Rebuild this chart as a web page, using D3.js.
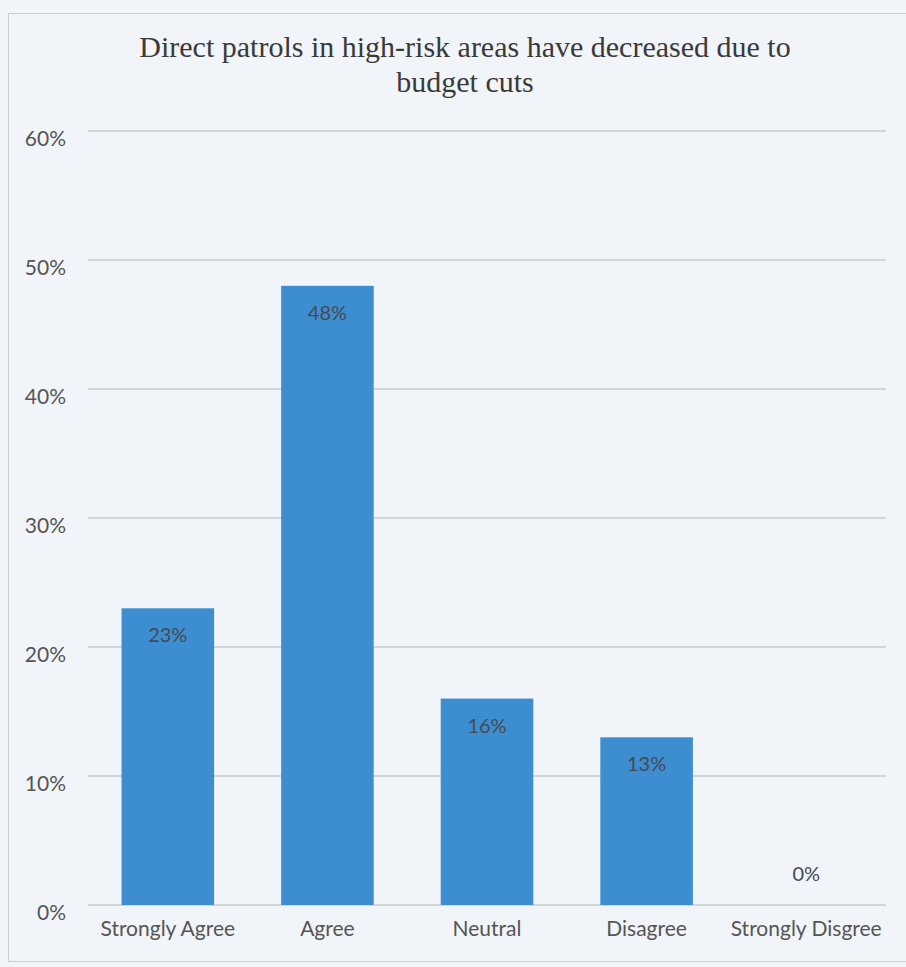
<!DOCTYPE html>
<html>
<head>
<meta charset="utf-8">
<script src="https://cdn.jsdelivr.net/npm/d3@7"></script>
<style>
  html, body { margin: 0; padding: 0; background: #f1f4f8; }
  svg { display: block; }
</style>
</head>
<body>
<svg id="chart" width="906" height="967"></svg>
<script>
const categories = ["Strongly Agree", "Agree", "Neutral", "Disagree", "Strongly Disgree"];
const values = [0.23, 0.48, 0.16, 0.13, 0.00];
const valueLabels = ["23%", "48%", "16%", "13%", "0%"];
const yTicks = [0, 0.1, 0.2, 0.3, 0.4, 0.5, 0.6];
const titleLines = ["Direct patrols in high-risk areas have decreased due to", "budget cuts"];

const svg = d3.select("#chart");
const W = 906, H = 967;

svg.append("rect").attr("width", W).attr("height", H).attr("fill", "#f1f4f8");

// chart frame
svg.append("rect")
  .attr("x", 8.5).attr("y", 13.5).attr("width", W + 10).attr("height", 948)
  .attr("fill", "none").attr("stroke", "#c9ccd1").attr("stroke-width", 1);

const x = d3.scaleBand().domain(categories).range([88, 886]).paddingInner(0.42).paddingOuter(0.21);
const y = d3.scaleLinear().domain([0, 0.6]).range([905, 131]);

// gridlines
svg.append("g").selectAll("line").data(yTicks).join("line")
  .attr("x1", 88).attr("x2", 886)
  .attr("y1", d => y(d)).attr("y2", d => y(d))
  .attr("stroke", "#b4b6ba").attr("stroke-width", 1.2);

// y axis labels
const yAxis = d3.axisLeft(y).tickValues(yTicks).tickFormat(d3.format(".0%")).tickSize(0).tickPadding(0);
const gy = svg.append("g").attr("transform", "translate(66,0)").call(yAxis);
gy.select(".domain").remove();
gy.selectAll("text")
  .attr("font-family", "Lato, 'Open Sans', sans-serif")
  .attr("font-size", 21).attr("fill", "#555")
  .attr("dy", "0.35em")
  .attr("y", 7);

// bars
svg.append("g").selectAll("rect").data(values).join("rect")
  .attr("x", (d, i) => x(categories[i]))
  .attr("width", x.bandwidth())
  .attr("y", d => y(d))
  .attr("height", d => y(0) - y(d))
  .attr("fill", "#3d8ed1");

// value labels
svg.append("g").selectAll("text").data(values).join("text")
  .attr("x", (d, i) => x(categories[i]) + x.bandwidth() / 2)
  .attr("y", d => d > 0 ? y(d) + 34 : y(d) - 24)
  .attr("text-anchor", "middle")
  .attr("font-family", "Lato, 'Open Sans', sans-serif")
  .attr("font-size", 20).attr("fill", "#454a52")
  .text((d, i) => valueLabels[i]);

// x axis labels
const xAxis = d3.axisBottom(x).tickSize(0).tickPadding(0);
const gx = svg.append("g").attr("transform", "translate(0,917)").call(xAxis);
gx.select(".domain").remove();
gx.selectAll("text")
  .attr("font-family", "Lato, 'Open Sans', sans-serif")
  .attr("font-size", 21).attr("fill", "#555")
  .attr("dy", "0.9em");

// title
svg.append("g").selectAll("text").data(titleLines).join("text")
  .attr("x", 465).attr("y", (d, i) => 57 + i * 35)
  .attr("text-anchor", "middle")
  .attr("font-family", "'Liberation Serif', 'Times New Roman', serif")
  .attr("font-size", 30).attr("fill", "#3a3a3a")
  .text(d => d);
</script>
</body>
</html>
